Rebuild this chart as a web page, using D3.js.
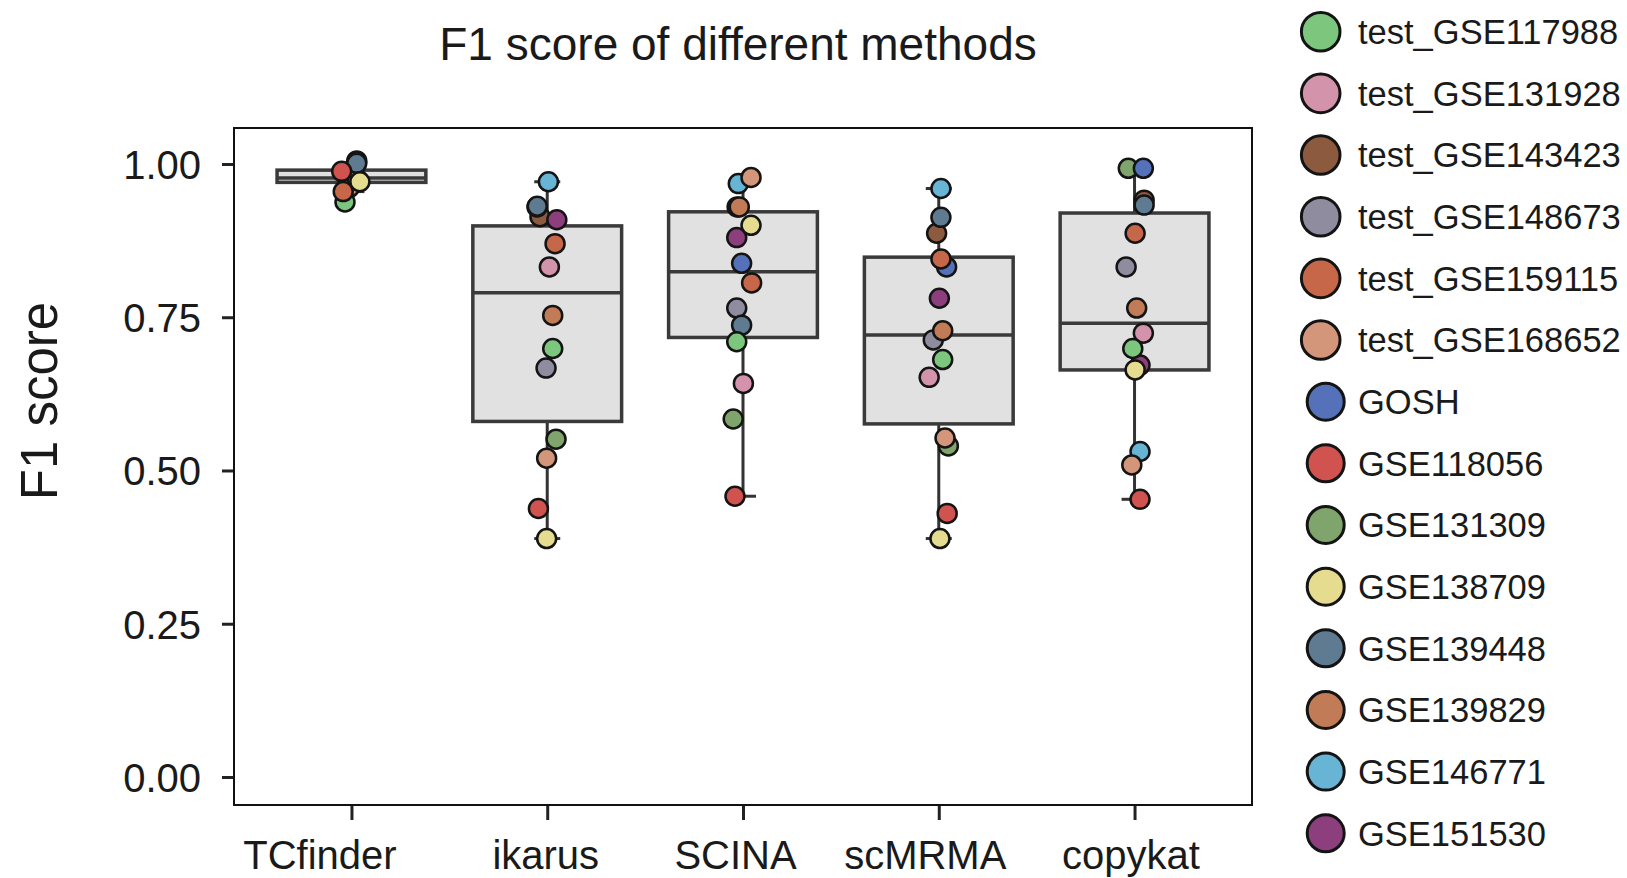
<!DOCTYPE html>
<head>
    <meta charset="utf-8">
    <title>F1 score of different methods</title>
    <style>
        html, body {
            margin: 0;
            background: #fff;
        }

        svg text {
            font-family: "Liberation Sans", Arial, sans-serif;
            fill: #1a1a1a;
        }
    </style>
</head>
<body>
<script src="https://cdn.jsdelivr.net/npm/d3@7"></script>
<script>

    // ---- data ----
    const methods = ["TCfinder", "ikarus", "SCINA", "scMRMA", "copykat"];

    const datasets = ["test_GSE117988", "test_GSE131928", "test_GSE143423", "test_GSE148673",
        "test_GSE159115", "test_GSE168652", "GOSH", "GSE118056", "GSE131309", "GSE138709",
        "GSE139448", "GSE139829", "GSE146771", "GSE151530"];

    const datasetColors = ["#7cc77d", "#d393ab", "#8c5a3e", "#8f8ca0", "#c6674a", "#d4967a",
        "#5571b9", "#d1534f", "#7fa46c", "#e6dc8f", "#5f7b92", "#c17b56", "#67b4d5", "#8c3f7c"];

    // box statistics per method
    const q1 = [0.970, 0.580, 0.717, 0.576, 0.664];
    const median = [0.977, 0.790, 0.824, 0.721, 0.740];
    const q3 = [0.990, 0.899, 0.922, 0.848, 0.920];
    const whiskerLow = [0.955, 0.389, 0.458, 0.389, 0.453];
    const whiskerHigh = [1.000, 0.971, 0.971, 0.960, 0.993];

    // per method scores, in drawing order; jitter is the horizontal spread in band units
    const scoresTCfinder = [
        {set: "GSE146771", f1: 0.985, jitter: 0.005},
        {set: "GSE151530", f1: 0.975, jitter: 0.000},
        {set: "test_GSE131928", f1: 0.980, jitter: -0.010},
        {set: "test_GSE148673", f1: 0.985, jitter: 0.010},
        {set: "GSE139829", f1: 0.965, jitter: -0.020},
        {set: "test_GSE168652", f1: 0.962, jitter: -0.010},
        {set: "GOSH", f1: 0.990, jitter: 0.005},
        {set: "GSE131309", f1: 0.975, jitter: 0.030},
        {set: "test_GSE143423", f1: 1.005, jitter: 0.027},
        {set: "GSE139448", f1: 1.001, jitter: 0.027},
        {set: "test_GSE117988", f1: 0.938, jitter: -0.033},
        {set: "test_GSE159115", f1: 0.955, jitter: -0.042},
        {set: "GSE118056", f1: 0.988, jitter: -0.050},
        {set: "GSE138709", f1: 0.971, jitter: 0.043}
    ];
    const scoresIkarus = [
        {set: "test_GSE143423", f1: 0.914, jitter: -0.037},
        {set: "GOSH", f1: 0.930, jitter: -0.052},
        {set: "GSE139448", f1: 0.931, jitter: -0.051},
        {set: "GSE146771", f1: 0.971, jitter: 0.006},
        {set: "GSE151530", f1: 0.909, jitter: 0.049},
        {set: "test_GSE159115", f1: 0.870, jitter: 0.040},
        {set: "test_GSE131928", f1: 0.832, jitter: 0.011},
        {set: "GSE139829", f1: 0.753, jitter: 0.028},
        {set: "test_GSE117988", f1: 0.699, jitter: 0.028},
        {set: "test_GSE148673", f1: 0.667, jitter: -0.006},
        {set: "GSE131309", f1: 0.551, jitter: 0.045},
        {set: "test_GSE168652", f1: 0.520, jitter: -0.003},
        {set: "GSE118056", f1: 0.438, jitter: -0.045},
        {set: "GSE138709", f1: 0.389, jitter: -0.003}
    ];
    const scoresSCINA = [
        {set: "test_GSE143423", f1: 0.930, jitter: -0.030},
        {set: "GSE146771", f1: 0.968, jitter: -0.024},
        {set: "test_GSE168652", f1: 0.978, jitter: 0.041},
        {set: "GSE139829", f1: 0.930, jitter: -0.019},
        {set: "GSE151530", f1: 0.880, jitter: -0.032},
        {set: "GSE138709", f1: 0.900, jitter: 0.041},
        {set: "GOSH", f1: 0.838, jitter: -0.007},
        {set: "test_GSE159115", f1: 0.806, jitter: 0.044},
        {set: "test_GSE148673", f1: 0.765, jitter: -0.032},
        {set: "GSE139448", f1: 0.737, jitter: -0.007},
        {set: "test_GSE117988", f1: 0.710, jitter: -0.032},
        {set: "test_GSE131928", f1: 0.642, jitter: 0.002},
        {set: "GSE131309", f1: 0.584, jitter: -0.050},
        {set: "GSE118056", f1: 0.458, jitter: -0.041}
    ];
    const scoresScMRMA = [
        {set: "GOSH", f1: 0.832, jitter: 0.040},
        {set: "test_GSE148673", f1: 0.713, jitter: -0.028},
        {set: "GSE131309", f1: 0.540, jitter: 0.049},
        {set: "test_GSE143423", f1: 0.887, jitter: -0.011},
        {set: "GSE146771", f1: 0.960, jitter: 0.011},
        {set: "GSE139448", f1: 0.913, jitter: 0.011},
        {set: "test_GSE159115", f1: 0.845, jitter: 0.011},
        {set: "GSE151530", f1: 0.781, jitter: 0.003},
        {set: "GSE139829", f1: 0.728, jitter: 0.020},
        {set: "test_GSE117988", f1: 0.681, jitter: 0.020},
        {set: "test_GSE131928", f1: 0.652, jitter: -0.049},
        {set: "test_GSE168652", f1: 0.553, jitter: 0.032},
        {set: "GSE118056", f1: 0.430, jitter: 0.043},
        {set: "GSE138709", f1: 0.389, jitter: 0.006}
    ];
    const scoresCopykat = [
        {set: "test_GSE143423", f1: 0.941, jitter: 0.049},
        {set: "GSE151530", f1: 0.672, jitter: 0.028},
        {set: "GSE131309", f1: 0.993, jitter: -0.032},
        {set: "GOSH", f1: 0.993, jitter: 0.045},
        {set: "GSE139448", f1: 0.933, jitter: 0.049},
        {set: "test_GSE159115", f1: 0.887, jitter: 0.003},
        {set: "test_GSE148673", f1: 0.832, jitter: -0.043},
        {set: "GSE139829", f1: 0.765, jitter: 0.011},
        {set: "test_GSE131928", f1: 0.724, jitter: 0.045},
        {set: "test_GSE117988", f1: 0.699, jitter: -0.009},
        {set: "GSE138709", f1: 0.664, jitter: 0.003},
        {set: "GSE146771", f1: 0.531, jitter: 0.028},
        {set: "test_GSE168652", f1: 0.509, jitter: -0.014},
        {set: "GSE118056", f1: 0.453, jitter: 0.028}
    ];
    const scores = [scoresTCfinder, scoresIkarus, scoresSCINA, scoresScMRMA, scoresCopykat];

    const yTicks = [0, 0.25, 0.5, 0.75, 1];

    // ---- layout ----
    const width = 1627,
        height = 878;
    const plot = {left: 234, right: 1252, top: 128, bottom: 805};
    // the category labels in the figure sit a little left of their ticks
    const xLabelShift = [-32, -2, -8, -14, -4];

    const svg = d3.select("body").append("svg")
        .attr("width", width)
        .attr("height", height);

    const x = d3.scalePoint()
        .domain(methods)
        .range([plot.left, plot.right])
        .padding(0.6);

    const y = d3.scaleLinear()
        .domain([-0.0457, 1.0587])
        .range([plot.bottom, plot.top]);

    const color = d3.scaleOrdinal(datasets, datasetColors);

    const boxWidth = x.step() * 0.76;
    const capWidth = 26;

    // title
    svg.append("text")
        .attr("x", 738)
        .attr("y", 60)
        .attr("text-anchor", "middle")
        .style("font-size", "46px")
        .text("F1 score of different methods");

    // y label
    svg.append("text")
        .attr("transform", "translate(57,401) rotate(-90)")
        .attr("text-anchor", "middle")
        .style("font-size", "51px")
        .text("F1 score");

    // axes
    const yAxis = svg.append("g")
        .attr("transform", `translate(${plot.left},0)`)
        .call(d3.axisLeft(y).tickValues(yTicks).tickFormat(d3.format(".2f"))
            .tickSize(12).tickPadding(21));

    const xAxis = svg.append("g")
        .attr("transform", `translate(0,${plot.bottom})`)
        .call(d3.axisBottom(x).tickSize(15).tickPadding(20));

    [xAxis, yAxis].forEach(a => {
        a.select(".domain").remove();
        a.selectAll(".tick line").attr("stroke", "#222").attr("stroke-width", 3);
        a.selectAll(".tick text").attr("fill", "#1a1a1a")
            .style("font-family", "\"Liberation Sans\", Arial, sans-serif")
            .style("font-size", "40px");
    });
    yAxis.selectAll(".tick text").attr("dy", "0.36em");
    xAxis.selectAll(".tick text").attr("dy", "0.72em")
        .attr("dx", (d, i) => xLabelShift[i]);

    // boxes
    const boxes = svg.append("g")
        .selectAll("g")
        .data(methods)
        .enter().append("g");

    boxes.append("line")
        .attr("x1", d => x(d))
        .attr("x2", d => x(d))
        .attr("y1", (d, i) => y(whiskerHigh[i]))
        .attr("y2", (d, i) => y(whiskerLow[i]))
        .attr("stroke", "#333")
        .attr("stroke-width", 3);

    [whiskerHigh, whiskerLow].forEach(w => {
        boxes.append("line")
            .attr("x1", d => x(d) - capWidth / 2)
            .attr("x2", d => x(d) + capWidth / 2)
            .attr("y1", (d, i) => y(w[i]))
            .attr("y2", (d, i) => y(w[i]))
            .attr("stroke", "#333")
            .attr("stroke-width", 3);
    });

    boxes.append("rect")
        .attr("x", d => x(d) - boxWidth / 2)
        .attr("width", boxWidth)
        .attr("y", (d, i) => y(q3[i]))
        .attr("height", (d, i) => y(q1[i]) - y(q3[i]))
        .attr("fill", "#e1e1e1")
        .attr("stroke", "#3a3a3a")
        .attr("stroke-width", 3.5);

    boxes.append("line")
        .attr("x1", d => x(d) - boxWidth / 2)
        .attr("x2", d => x(d) + boxWidth / 2)
        .attr("y1", (d, i) => y(median[i]))
        .attr("y2", (d, i) => y(median[i]))
        .attr("stroke", "#3a3a3a")
        .attr("stroke-width", 3.5);

    // points
    methods.forEach((m, i) => {
        svg.append("g")
            .selectAll("circle")
            .data(scores[i])
            .enter().append("circle")
            .attr("cx", d => x(m) + d.jitter * x.step())
            .attr("cy", d => y(d.f1))
            .attr("r", 9.5)
            .attr("fill", d => color(d.set))
            .attr("stroke", "#141414")
            .attr("stroke-width", 2.5);
    });

    // frame
    svg.append("rect")
        .attr("x", plot.left)
        .attr("y", plot.top)
        .attr("width", plot.right - plot.left)
        .attr("height", plot.bottom - plot.top)
        .attr("fill", "none")
        .attr("stroke", "#111")
        .attr("stroke-width", 2);

    // legend
    const legendStep = 61.66;
    const legend = svg.append("g")
        .selectAll("g")
        .data(datasets)
        .enter().append("g")
        .attr("transform", (d, i) => `translate(0,${31.7 + i * legendStep})`);

    legend.append("circle")
        .attr("cx", d => d.startsWith("test_") ? 1320.7 : 1325.7)
        .attr("cy", 0)
        .attr("r", d => d.startsWith("test_") ? 19.3 : 18.5)
        .attr("fill", d => color(d))
        .attr("stroke", "#141414")
        .attr("stroke-width", 3);

    legend.append("text")
        .attr("x", 1358)
        .attr("y", 0)
        .attr("dy", "0.36em")
        .style("font-size", "34.5px")
        .text(d => d);

</script>
</body>
